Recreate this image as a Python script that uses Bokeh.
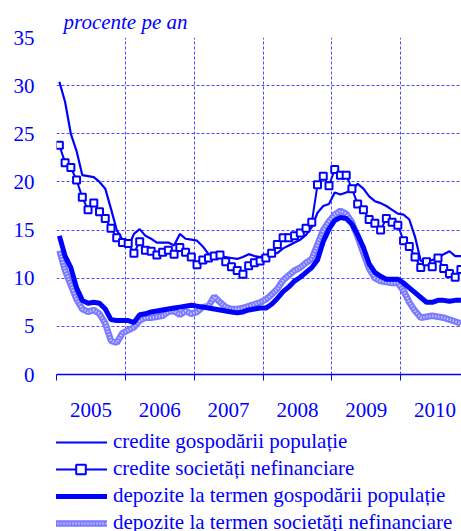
from bokeh.plotting import figure
from bokeh.layouts import column
from bokeh.models import Range1d, FixedTicker, Legend, LegendItem
from bokeh.embed import file_html
from bokeh.resources import INLINE

years = ["2005", "2006", "2007", "2008", "2009", "2010"]

credite_gospodarii = [
    30.4, 28.3, 25.0, 23.2, 20.7, 20.6, 20.5, 20.0, 19.3, 17.2,
    15.0, 14.0, 13.2, 14.6, 15.1, 14.4, 14.1, 13.7, 13.7, 13.7,
    13.4, 14.6, 14.1, 14.0, 13.9, 13.3, 12.5, 12.4, 12.3, 12.2,
    12.1, 12.0, 12.2, 12.5, 12.3, 12.2, 12.4, 12.6, 12.6, 13.1,
    13.4, 13.7, 14.0, 14.5, 15.3, 16.8, 17.5, 17.7, 18.9, 18.7,
    18.9, 19.2, 19.8, 19.3, 18.5, 18.0, 17.8, 17.5, 17.1, 16.7,
    16.6, 16.1, 14.3, 11.8, 11.7, 11.9, 12.1, 12.5, 12.8, 12.3,
    12.3,
]
credite_societati = [
    23.8, 22.0, 21.5, 20.2, 18.4, 17.1, 17.8, 16.9, 16.2, 15.2,
    14.2, 13.7, 13.6, 12.6, 13.8, 12.9, 12.8, 12.4, 12.7, 12.9,
    12.5, 13.2, 12.7, 12.2, 11.4, 11.9, 12.1, 12.3, 12.4, 11.7,
    11.2, 10.8, 10.4, 11.3, 11.6, 11.8, 12.1, 12.6, 13.5, 14.2,
    14.2, 14.4, 14.7, 15.2, 15.8, 19.7, 20.6, 19.6, 21.3, 20.7,
    20.7, 19.3, 17.7, 17.1, 16.1, 15.7, 15.0, 16.2, 15.8, 15.5,
    13.9, 13.3, 12.2, 11.1, 11.7, 11.2, 12.1, 11.0, 10.5, 10.1,
    10.9,
]
depozite_gospodarii = [
    14.4, 12.3, 11.1, 9.0, 7.7, 7.4, 7.5, 7.4, 6.8, 5.7,
    5.6, 5.6, 5.6, 5.4, 6.2, 6.3, 6.5, 6.6, 6.7, 6.8,
    6.9, 7.0, 7.1, 7.2, 7.1, 7.0, 6.9, 6.8, 6.7, 6.6,
    6.5, 6.4, 6.5, 6.7, 6.8, 6.9, 6.9, 7.3, 7.9, 8.6,
    9.1, 9.7, 10.1, 10.6, 11.1, 11.9, 13.8, 15.1, 16.0, 16.3,
    16.2, 15.6, 14.5, 13.2, 11.5, 10.6, 10.2, 9.9, 9.9, 9.9,
    9.5, 9.0, 8.5, 8.0, 7.5, 7.5, 7.7, 7.7, 7.6, 7.7,
    7.7,
]
depozite_societati = [
    12.9, 10.8, 9.3, 7.8, 6.8, 6.5, 6.7, 6.3, 5.3, 3.5,
    3.3, 4.3, 4.6, 4.9, 5.6, 5.9, 5.9, 6.0, 6.1, 6.5,
    6.6, 6.2, 6.6, 6.3, 6.5, 7.0, 7.1, 8.1, 7.5, 7.0,
    6.8, 6.8, 6.9, 7.1, 7.3, 7.5, 7.8, 8.3, 8.9, 9.8,
    10.3, 10.8, 11.1, 11.6, 12.0, 13.5, 15.0, 15.9, 16.6, 17.0,
    16.7, 15.8, 14.3, 12.6, 11.0, 10.0, 9.7, 9.6, 9.5, 9.5,
    8.7, 7.5, 6.6, 5.9, 6.0, 6.1, 6.0, 5.9, 5.7, 5.5,
    5.3,
]

labels = [
    "credite gospodării populație",
    "credite societăți nefinanciare",
    "depozite la termen gospodării populație",
    "depozite la termen societăți nefinanciare",
]

n = len(credite_gospodarii)
x = [i + 0.5 for i in range(n)]  # monthly positions, centred in each month

BLUE = "#0000ff"
LIGHT = "#7a7aff"
FONT = "Liberation Serif"

p = figure(width=461, height=422, x_range=Range1d(0, 70.6), y_range=Range1d(0, 35),
           output_backend="svg", toolbar_location=None,
           min_border_left=56, min_border_right=0, min_border_top=37, min_border_bottom=48)
p.outline_line_color = None

# unit text
p.title.text = "procente pe an"
p.title.text_font = FONT
p.title.text_font_size = "21px"
p.title.text_font_style = "italic"
p.title.text_color = BLUE
p.title.align = "left"
p.title.offset = 7
p.title.standoff = 8

# grids
year_starts = [12 * k for k in range(len(years) + 1)]
p.xgrid.ticker = FixedTicker(ticks=year_starts)
p.ygrid.ticker = FixedTicker(ticks=list(range(0, 36, 5)))
for g in (p.xgrid, p.ygrid):
    g.grid_line_color = "#4a4aff"
    g.grid_line_dash = "3 2"
    g.grid_line_width = 1

# x axis
mids = [12 * k + 6 for k in range(len(years))]
p.xaxis.ticker = FixedTicker(ticks=mids, minor_ticks=year_starts)
p.xaxis.major_label_overrides = {m: y for m, y in zip(mids, years)}
p.xaxis.axis_line_color = BLUE
p.xaxis.axis_line_width = 1.5
p.xaxis.major_tick_line_color = None
p.xaxis.major_tick_out = 0
p.xaxis.major_tick_in = 0
p.xaxis.minor_tick_line_color = BLUE
p.xaxis.minor_tick_out = 6
p.xaxis.minor_tick_in = 0
p.xaxis.major_label_standoff = 22
p.xaxis.major_label_text_font = FONT
p.xaxis.major_label_text_font_size = "21px"
p.xaxis.major_label_text_color = BLUE

# y axis
p.yaxis.ticker = FixedTicker(ticks=list(range(0, 36, 5)))
p.yaxis.axis_line_color = None
p.yaxis.major_tick_line_color = None
p.yaxis.minor_tick_line_color = None
p.yaxis.major_tick_out = 0
p.yaxis.major_tick_in = 0
p.yaxis.major_label_standoff = 22
p.yaxis.major_label_text_font = FONT
p.yaxis.major_label_text_font_size = "21px"
p.yaxis.major_label_text_color = BLUE

# series
p.line(x, depozite_societati, line_color=LIGHT, line_width=6.5)
p.line(x, depozite_societati, line_color="white", line_width=2.5, line_dash="1 2", line_alpha=0.7)
p.line(x, depozite_gospodarii, line_color=BLUE, line_width=5)
p.line(x, credite_gospodarii, line_color=BLUE, line_width=2.2)
p.line(x, credite_societati, line_color=BLUE, line_width=2)
p.scatter(x, credite_societati, marker="square", size=7, line_color=BLUE, line_width=2,
          fill_color="white")

# legend figure: same styles, renderers hold a single NaN so nothing is drawn in the frame
lg = figure(width=461, height=109, x_range=Range1d(0, 1), y_range=Range1d(0, 1),
            output_backend="svg", toolbar_location=None, x_axis_type=None, y_axis_type=None,
            min_border_left=56, min_border_right=0, min_border_top=0, min_border_bottom=0)
lg.outline_line_color = None
lg.xgrid.visible = False
lg.ygrid.visible = False
e = [float("nan")]
g1 = lg.line(e, e, line_color=BLUE, line_width=2.2)
g2a = lg.line(e, e, line_color=BLUE, line_width=2)
g2b = lg.scatter(e, e, marker="square", size=7, line_color=BLUE, line_width=2, fill_color="white")
g3 = lg.line(e, e, line_color=BLUE, line_width=5)
g4a = lg.line(e, e, line_color=LIGHT, line_width=6.5)
g4b = lg.line(e, e, line_color="white", line_width=2.5, line_dash="1 2", line_alpha=0.7)

legend = Legend(items=[
    LegendItem(label=labels[0], renderers=[g1]),
    LegendItem(label=labels[1], renderers=[g2a, g2b]),
    LegendItem(label=labels[2], renderers=[g3]),
    LegendItem(label=labels[3], renderers=[g4a, g4b]),
], location=(-2, -4), orientation="vertical")
legend.padding = 0
legend.margin = 0
legend.spacing = 2
legend.glyph_width = 53
legend.glyph_height = 24
legend.label_height = 24
legend.label_standoff = 6
legend.label_text_font = FONT
legend.label_text_font_size = "21px"
legend.label_text_color = BLUE
legend.border_line_color = None
legend.background_fill_alpha = 0
lg.add_layout(legend)

open("out.html", "w").write(file_html(column(p, lg, spacing=0), INLINE))
